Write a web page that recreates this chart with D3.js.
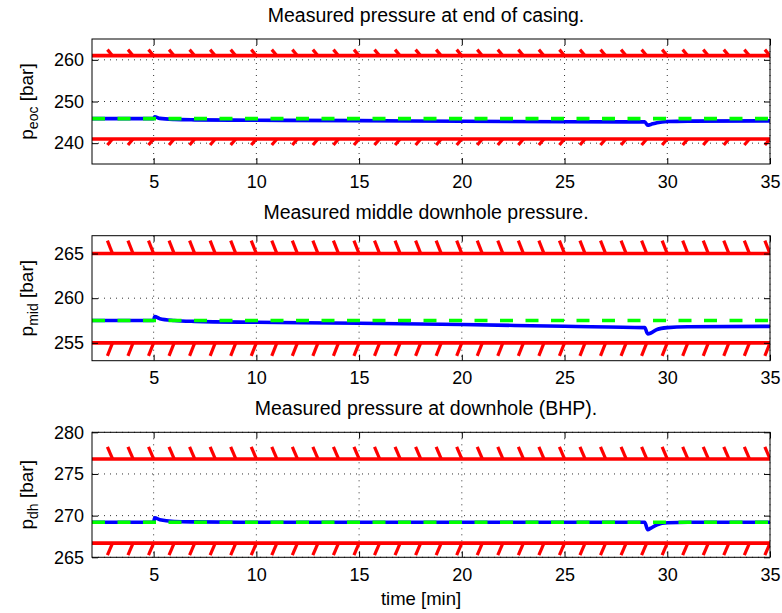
<!DOCTYPE html>
<html><head><meta charset="utf-8">
<script src="https://cdn.jsdelivr.net/npm/d3@7"></script>
<style>body{margin:0;background:#fff}svg{display:block}text{font-family:"Liberation Sans",Arial,sans-serif;fill:#000}</style>
</head><body><svg id="c" width="782" height="613"></svg>
<script>
// ---- data ----
const time   = [2, 5, 5.05, 5.3, 6, 7, 10, 15, 20, 25, 28.9, 29.05, 29.2, 29.5, 30, 31, 35];
const pEoc   = [245.9, 245.9, 246.35, 245.95, 245.7, 245.6, 245.5, 245.4, 245.25, 245.15, 245.1, 244.3, 244.5, 244.9, 245.2, 245.3, 245.35];
const pMid   = [257.5, 257.5, 257.95, 257.7, 257.5, 257.4, 257.3, 257.2, 257.05, 256.85, 256.7, 256.0, 256.1, 256.5, 256.7, 256.8, 256.85];
const pDh    = [269.2, 269.2, 269.75, 269.5, 269.3, 269.25, 269.2, 269.2, 269.2, 269.2, 269.2, 268.3, 268.5, 268.9, 269.15, 269.2, 269.2];
const series = [pEoc, pMid, pDh];
const titles = ["Measured pressure at end of casing.", "Measured middle downhole pressure.", "Measured pressure at downhole (BHP)."];
const ySubs  = ["eoc", "mid", "dh"];
const yTicks = [[240, 250, 260], [255, 260, 265], [265, 270, 275, 280]];
const yDomains = [[235, 265], [253, 267], [265, 280]];
const xTicks = [5, 10, 15, 20, 25, 30, 35];
const xDomain = [2, 35];
const upperLimits = [261, 265, 276.8];
const lowerLimits = [241, 255, 266.7];
const setpoints   = [245.9, 257.5, 269.2];
const hatchX = d3.range(3, 36);

// ---- layout ----
const svg = d3.select("#c");
const L = 92, R = 770, H = 125;
const tops = [39, 235.7, 432.3];
const x = d3.scaleLinear().domain(xDomain).range([L, R]);
const tickLen = 6;

tops.forEach((top, i) => {
  const y = d3.scaleLinear().domain(yDomains[i]).range([top + H, top]);
  const g = svg.append("g");
  const clipId = "clip" + i;
  svg.append("clipPath").attr("id", clipId).append("rect")
    .attr("x", L).attr("y", top).attr("width", R - L).attr("height", H);

  // grid
  const grid = g.append("g").attr("stroke", "#000").attr("stroke-width", 1)
    .attr("stroke-dasharray", "1,5").attr("opacity", 0.8);
  xTicks.forEach(t => grid.append("line").attr("x1", x(t)).attr("x2", x(t)).attr("y1", top).attr("y2", top + H));
  yTicks[i].forEach(t => grid.append("line").attr("x1", L).attr("x2", R).attr("y1", y(t)).attr("y2", y(t)));

  const plot = g.append("g").attr("clip-path", `url(#${clipId})`);

  // red limit lines with hatches
  const red = "#ff0000";
  [[upperLimits[i], 1], [lowerLimits[i], -1]].forEach(([v, dir]) => {
    plot.append("line").attr("x1", L).attr("x2", R).attr("y1", y(v)).attr("y2", y(v))
      .attr("stroke", red).attr("stroke-width", 3.6);
    plot.selectAll(null).data(hatchX).enter().append("line")
      .attr("x1", d => x(d)).attr("y1", y(v))
      .attr("x2", d => x(d - 0.25)).attr("y2", y(v + dir * 1.45))
      .attr("stroke", red).attr("stroke-width", 3.2);
  });

  // measured (blue)
  const pts = time.map((t, k) => [t, series[i][k]]);
  const line = d3.line().x(d => x(d[0])).y(d => y(d[1])).curve(d3.curveMonotoneX);
  plot.append("path").attr("d", line(pts)).attr("fill", "none")
    .attr("stroke", "#0000ff").attr("stroke-width", 3.6).attr("stroke-linejoin", "round");

  // setpoint (green dashed)
  plot.append("line").attr("x1", x(xDomain[0])).attr("x2", x(xDomain[1]))
    .attr("y1", y(setpoints[i])).attr("y2", y(setpoints[i]))
    .attr("stroke", "#00ff00").attr("stroke-width", 3.6).attr("stroke-dasharray", "13,12.5");

  // box
  g.append("rect").attr("x", L).attr("y", top).attr("width", R - L).attr("height", H)
    .attr("fill", "none").attr("stroke", "#000").attr("stroke-width", 1);

  // axes with inward ticks
  const fs = 18;
  const ax = g.append("g").attr("transform", `translate(${L},0)`)
    .call(d3.axisLeft(y).tickValues(yTicks[i]).tickSizeInner(-tickLen).tickSizeOuter(0).tickPadding(tickLen + 2));
  const ax2 = g.append("g").attr("transform", `translate(${R},0)`)
    .call(d3.axisRight(y).tickValues(yTicks[i]).tickSizeInner(-tickLen).tickSizeOuter(0).tickFormat(""));
  const ax3 = g.append("g").attr("transform", `translate(0,${top + H})`)
    .call(d3.axisBottom(x).tickValues(xTicks).tickSizeInner(-tickLen).tickSizeOuter(0).tickPadding(tickLen + 5));
  const ax4 = g.append("g").attr("transform", `translate(0,${top})`)
    .call(d3.axisTop(x).tickValues(xTicks).tickSizeInner(-tickLen).tickSizeOuter(0).tickFormat(""));
  [ax, ax2, ax3, ax4].forEach(a => {
    a.select(".domain").remove();
    a.selectAll("text").attr("font-size", fs).attr("font-family", "Liberation Sans, Arial, sans-serif").attr("fill", "#000");
    a.selectAll("line").attr("stroke", "#000");
  });
  ax3.selectAll("text").attr("dy", "0.71em");

  // title
  g.append("text").attr("x", (L + R) / 2 - 5).attr("y", top - 17).attr("text-anchor", "middle")
    .attr("font-size", 19.5).text(titles[i]);

  // y label
  const yl = g.append("text").attr("transform", `translate(33,${top + H / 2}) rotate(-90)`)
    .attr("text-anchor", "middle").attr("font-size", 19);
  yl.append("tspan").text("p");
  yl.append("tspan").attr("font-size", 14).attr("dy", 5).text(ySubs[i]);
  yl.append("tspan").attr("dy", -5).text(" [bar]");
});

svg.append("text").attr("x", (L + R) / 2 - 10).attr("y", 605).attr("text-anchor", "middle")
  .attr("font-size", 18.5).text("time [min]");
</script>
</body></html>
